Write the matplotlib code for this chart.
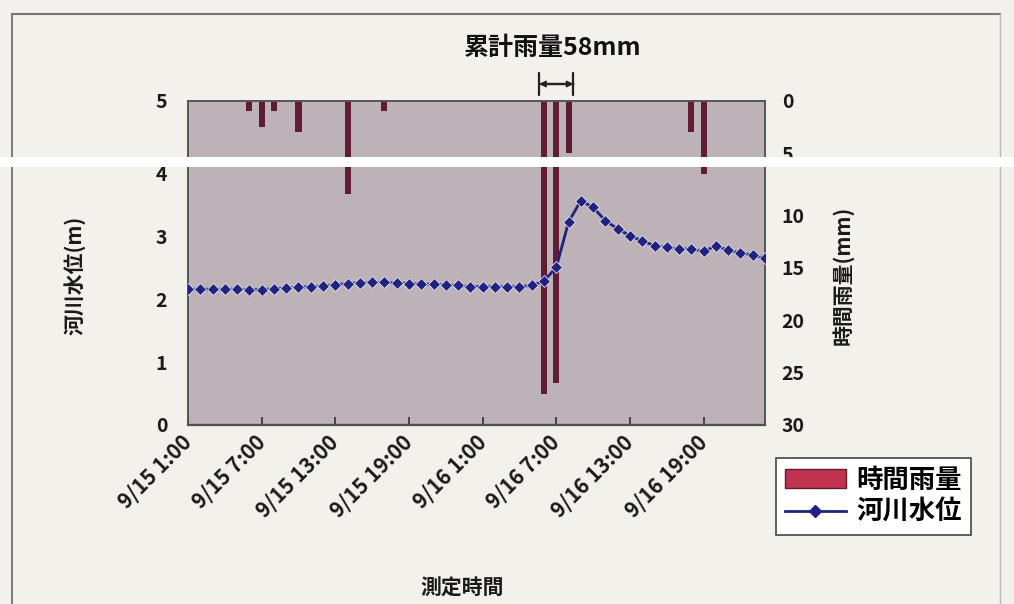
import matplotlib
matplotlib.use("Agg")
import matplotlib.pyplot as plt
from matplotlib.patches import Patch, Rectangle
from matplotlib.lines import Line2D

plt.rcParams['font.family'] = ['Noto Sans CJK JP', 'DejaVu Sans']

# hourly categories 9/15 1:00 ... 9/17 0:00
hours = [f"9/15 {h}:00" for h in range(1, 24)] + [f"9/16 {h}:00" for h in range(0, 24)] + ["9/17 0:00"]
tick_idx = [0, 6, 12, 18, 24, 30, 36, 42]

# hourly rainfall (mm)
rain = [0, 0, 0, 0, 0, 1, 2.5, 1, 0, 3, 0, 0, 0, 8, 0, 0,
        1, 0, 0, 0, 0, 0, 0, 0, 0, 0, 0, 0, 0, 27, 26, 5,
        0, 0, 0, 0, 0, 0, 0, 0, 0, 3, 6, 0, 0, 0, 0, 0]

# river water level (m)
level = [2.16, 2.16, 2.16, 2.16, 2.16, 2.15, 2.15, 2.17, 2.18, 2.19, 2.20, 2.21, 2.23, 2.25, 2.26, 2.27,
         2.27, 2.26, 2.25, 2.24, 2.24, 2.23, 2.22, 2.20, 2.20, 2.20, 2.20, 2.20, 2.22, 2.29, 2.51, 3.23,
         3.57, 3.46, 3.25, 3.12, 3.01, 2.93, 2.85, 2.83, 2.80, 2.80, 2.76, 2.85, 2.78, 2.74, 2.70, 2.65]

x = list(range(len(hours)))

fig_bg = '#f3f1eb'
plot_bg = '#bcb2b8'
bar_col = '#5e1d33'
legend_bar_col = '#c0354d'
line_col = '#1f2280'
txt_col = '#1a1a1a'

W, H = 1014, 604
fig = plt.figure(figsize=(W/100, H/100), dpi=100, facecolor=fig_bg)

L, R = 188, 765
band_top, band_bot = 157, 167
top_px, bot_px = 101, 425
lvl_split = 5 - (band_top - top_px) / 62.5      # level at the scan band
rain_split = 6 * (5 - lvl_split)                 # rain at the scan band


def frac(px_top, px_bot):
    return [L/W, 1 - px_bot/H, (R-L)/W, (px_bot-px_top)/H]


# scanned page is torn by a white band: upper and lower parts of the same plot
axU_r = fig.add_axes(frac(top_px, band_top))
axL_r = fig.add_axes(frac(band_bot, bot_px))
axU = axU_r.twinx()
axL = axL_r.twinx()

for r_ax, l_ax, rlim, llim in ((axU_r, axU, (rain_split, 0), (lvl_split, 5)),
                               (axL_r, axL, (30, rain_split), (0, lvl_split))):
    r_ax.bar(x, rain, width=0.5, color=bar_col, zorder=2)
    r_ax.set_ylim(*rlim)
    r_ax.set_xlim(0, 47)
    r_ax.patch.set_facecolor(plot_bg)
    l_ax.set_ylim(*llim)
    l_ax.set_zorder(r_ax.get_zorder() + 1)
    l_ax.patch.set_visible(False)
    # rain axis ticks on the right, level axis ticks on the left
    r_ax.yaxis.tick_right()
    l_ax.yaxis.tick_left()
    r_ax.tick_params(axis='y', length=0, pad=12, labelsize=14, labelcolor=txt_col)
    l_ax.tick_params(axis='y', length=0, pad=15, labelsize=14, labelcolor=txt_col)
    for a in (r_ax, l_ax):
        for s in a.spines.values():
            s.set_color('#555555')
            s.set_linewidth(1.2)

axU_r.set_yticks([0, 5])
axU.set_yticks([5])
axL_r.set_yticks([10, 15, 20, 25, 30])
axL.set_yticks([0, 1, 2, 3, 4])
for a in (axU_r, axU):
    a.spines['bottom'].set_visible(False)
    a.tick_params(axis='x', bottom=False, labelbottom=False)
for a in (axL_r, axL):
    a.spines['top'].set_visible(False)

axL.plot(x, level, color=line_col, lw=2, marker='D', ms=6.5,
         markerfacecolor=line_col, markeredgecolor='#e8e4f0', markeredgewidth=0.6, zorder=3)

axL_r.set_xticks(tick_idx)
axL_r.set_xticklabels([hours[i] for i in tick_idx], rotation=45, ha='right', va='center',
                      rotation_mode='anchor', fontsize=15, fontweight='bold', color=txt_col)
axL_r.tick_params(axis='x', direction='in', length=6, width=1.2, color='#333333', pad=10)
axL.tick_params(axis='x', bottom=False, labelbottom=False)
axL_r.spines['bottom'].set_color('#333333')
axL_r.spines['bottom'].set_linewidth(1.6)

for t in axL_r.get_yticklabels() + axL.get_yticklabels() + axU_r.get_yticklabels() + axU.get_yticklabels():
    t.set_fontweight('bold')

fig.text(75/W, 1-275/H, '河川水位(m)', rotation=90, ha='center', va='center',
         fontsize=15, fontweight='bold', color=txt_col)
fig.text(843/W, 1-275/H, '時間雨量(mm)', rotation=90, ha='center', va='center',
         fontsize=15, fontweight='bold', color=txt_col)
fig.text(462/W, 1-588/H, '測定時間', ha='center', va='center',
         fontsize=15, fontweight='bold', color=txt_col)

# cumulative rainfall annotation (bracket over the 3 heavy-rain hours)
arrow_y = H - 84
for style in ('|-|', '<->'):
    axU_r.annotate('', xy=(28.6, arrow_y), xytext=(31.4, arrow_y),
                   xycoords=('data', 'figure pixels'), textcoords=('data', 'figure pixels'),
                   arrowprops=dict(arrowstyle=style, lw=1.6, color='#222222',
                                   mutation_scale=8, shrinkA=0, shrinkB=0),
                   annotation_clip=False)
fig.text(553/W, 1-48/H, '累計雨量58mm', ha='center', va='center',
         fontsize=18, fontweight='bold', color='#111111')

handles = [Patch(facecolor=legend_bar_col, edgecolor=bar_col),
           Line2D([], [], color=line_col, lw=2, marker='D', ms=6.5)]
leg = fig.legend(handles, ['時間雨量', '河川水位'], loc='center',
                 bbox_to_anchor=(873.5/W, 1-496.5/H),
                 prop={'weight': 'bold', 'size': 19},
                 frameon=True, fancybox=False, framealpha=1, edgecolor='#444444',
                 handlelength=2.3, handletextpad=0.4, borderpad=0.35, labelspacing=0.2)
leg.get_frame().set_linewidth(1.2)

# page frame lines and scan band
fig.add_artist(Line2D([12/W, 12/W], [0, 1-14/H], color='#666666', lw=1.2))
fig.add_artist(Line2D([12/W, 1000/W], [1-14/H, 1-14/H], color='#777777', lw=1.5))
fig.add_artist(Line2D([1000/W, 1000/W], [0, 1-14/H], color='#bbbbbb', lw=1.0))
fig.patches.append(Rectangle((0, 1-band_bot/H), 1, (band_bot-band_top)/H, transform=fig.transFigure,
                             facecolor='white', edgecolor='none', zorder=10))

fig.savefig('out.png', dpi=100, facecolor=fig_bg)
